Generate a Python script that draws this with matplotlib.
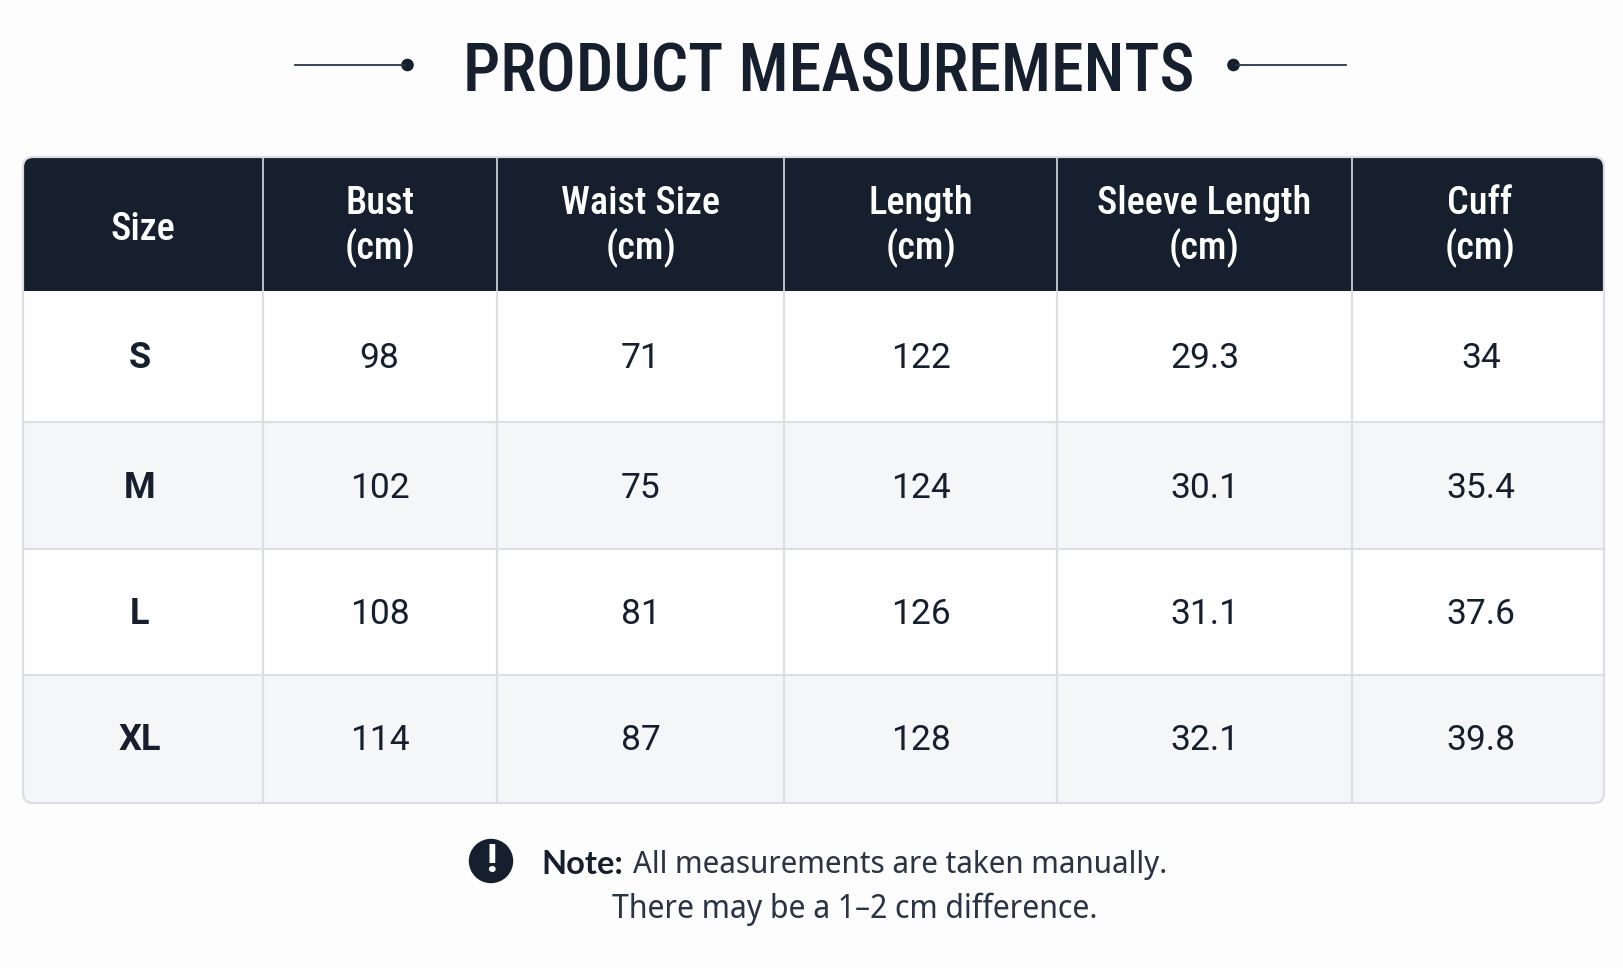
import matplotlib
matplotlib.use('Agg')
import matplotlib.pyplot as plt
from matplotlib.patches import Rectangle, FancyBboxPatch, Circle

title = "PRODUCT MEASUREMENTS"
headers = ["Size", "Bust\n(cm)", "Waist Size\n(cm)", "Length\n(cm)", "Sleeve Length\n(cm)", "Cuff\n(cm)"]
sizes = ["S", "M", "L", "XL"]
bust = ["98", "102", "108", "114"]
waist = ["71", "75", "81", "87"]
length = ["122", "124", "126", "128"]
sleeve = ["29.3", "30.1", "31.1", "32.1"]
cuff = ["34", "35.4", "37.6", "39.8"]
note_bold = "Note:"
note_1 = "All measurements are taken manually."
note_2 = "There may be a 1–2 cm difference."

# layout in pixels of the 1624x968 picture
col_edges = [23, 263, 497, 784, 1057.5, 1352.5, 1604]
row_edges = [291, 421.5, 549, 675, 803]
head_top = 157
col_mid = [140, 379.5, 641, 921, 1205, 1481]
head_mid = [143, 380, 641, 921, 1204.5, 1480]
row_mid = [358, 488, 614, 740]

navy = "#161f2e"
grid = "#dcdee3"
zebra = "#f5f6f8"
bg = "#fdfdfe"
condensed = ['Roboto Condensed', 'Roboto', 'DejaVu Sans']
plain = ['Noto Sans Display', 'Noto Sans', 'DejaVu Sans']

fig = plt.figure(figsize=(16.24, 9.68), dpi=100, facecolor=bg)
ax = fig.add_axes([0, 0, 1, 1])
ax.set_xlim(0, 1624)
ax.set_ylim(968, 0)
ax.axis('off')

# title and the little ornaments either side
ax.text(829, 74, title, family=condensed, weight='medium', fontsize=47.5, color=navy,
        ha='center', va='center')
ax.plot([295, 405], [65, 65], color="#2b3445", lw=1.3)
ax.plot([1236, 1346], [65, 65], color="#2b3445", lw=1.3)
ax.add_patch(Circle((407.5, 65), 5.6, color=navy))
ax.add_patch(Circle((1233.5, 65), 5.6, color=navy))

# rounded outline used to clip the corners of the table
w = col_edges[-1] - col_edges[0]
h = row_edges[-1] - head_top
pad = 10
outline = FancyBboxPatch((col_edges[0] + pad, head_top + pad), w - 2 * pad, h - 2 * pad,
                         boxstyle="round,pad=10,rounding_size=10", fc='none', ec=grid, lw=1.6, zorder=5)
ax.add_patch(outline)

clip = FancyBboxPatch((col_edges[0] + pad, head_top + pad), w - 2 * pad, h - 2 * pad,
                      boxstyle="round,pad=10,rounding_size=10", fc='none', ec='none')
ax.add_patch(clip)

cells = [Rectangle((col_edges[0], head_top), w, row_edges[0] - head_top, fc=navy, ec='none', zorder=1)]
for i in range(4):
    cells.append(Rectangle((col_edges[0], row_edges[i]), w, row_edges[i + 1] - row_edges[i],
                           fc=zebra if i % 2 else "#fefefe", ec='none', zorder=1))
for c in cells:
    ax.add_patch(c)
    c.set_clip_path(clip)

# grid lines
for x in col_edges[1:-1]:
    ax.plot([x, x], [head_top, row_edges[0]], color="#c9cdd4", lw=1.3, zorder=3, solid_capstyle='butt')
    ax.plot([x, x], [row_edges[0], row_edges[-1]], color=grid, lw=1.5, zorder=3, solid_capstyle='butt')
for y in row_edges[1:-1]:
    ax.plot([col_edges[0], col_edges[-1]], [y, y], color=grid, lw=1.5, zorder=3)

for x, lab in zip(head_mid, headers):
    y = 226 if "\n" in lab else 229
    ax.text(x, y, lab, family=condensed, weight='medium', fontsize=27.5, color='white',
            ha='center', va='center', linespacing=1.19, zorder=6)

columns = [bust, waist, length, sleeve, cuff]
for i, y in enumerate(row_mid):
    ax.text(col_mid[0], y, sizes[i], family='Roboto', weight='bold', fontsize=26, color=navy,
            ha='center', va='center', zorder=6)
    for x, col in zip(col_mid[1:], columns):
        ax.text(x, y, col[i], family='Roboto', fontsize=25.5, color=navy,
                ha='center', va='center', zorder=6)

# note under the table
ax.add_patch(Circle((491, 861), 21.5, color=navy, zorder=6))
ax.text(491, 862, "!", family='Roboto', weight='black', fontsize=27, color='white',
        ha='center', va='center', zorder=7)
t = ax.text(541, 864, note_bold, family=['Lato', 'DejaVu Sans'], weight='bold', fontsize=23.5,
            color=navy, va='center')
fig.canvas.draw()
x1 = t.get_window_extent().x1
ax.text(x1 + 10, 865, note_1, family=plain, fontsize=22.5, color="#2b3445", va='center')
ax.text(855, 909, note_2, family=plain, fontsize=23, color="#2b3445", ha='center', va='center')

fig.savefig('out.png', dpi=100, facecolor=bg)
